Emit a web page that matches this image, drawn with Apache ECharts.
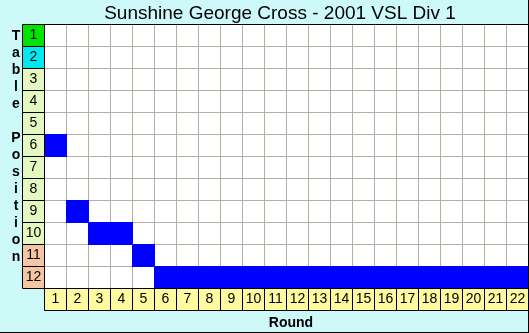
<!DOCTYPE html>
<html><head><meta charset="utf-8">
<script src="https://cdn.jsdelivr.net/npm/echarts@6/dist/echarts.min.js"></script>
<style>
html,body{margin:0;padding:0;background:#cef9f9;}
#wrap{position:relative;width:529px;height:333px;}
#chart{position:absolute;left:0;top:0;width:529px;height:333px;}
#frame{position:absolute;left:0;top:0;width:529px;height:333px;box-sizing:border-box;border-right:1px solid #000;border-bottom:1px solid #000;pointer-events:none;}
</style></head>
<body><div id="wrap"><div id="chart"></div><div id="frame"></div></div>
<script>
const titleText = 'Sunshine George Cross - 2001 VSL Div 1';
const yAxisTitle = 'Table Position';
const xAxisTitle = 'Round';
const rounds = ['1','2','3','4','5','6','7','8','9','10','11','12','13','14','15','16','17','18','19','20','21','22'];
const positions = ['1','2','3','4','5','6','7','8','9','10','11','12'];
const teamPosition = [6,9,10,10,11,12,12,12,12,12,12,12,12,12,12,12,12,12,12,12,12,12];

function posColor(p){
  if (p === 1) return '#00e400';
  if (p === 2) return '#00e8f0';
  if (p >= 11) return '#f6c6a2';
  return '#e6f8c2';
}
const FONT = '"Liberation Sans", Arial, sans-serif';

function labelCell(fillFn){
  return function(params, api){
    const c = api.coord([api.value(0), api.value(1)]);
    const s = api.size([1,1]);
    const x = Math.round(c[0]-s[0]/2)+0.5, y = Math.round(c[1]-s[1]/2)+0.5;
    return {
      type:'rect',
      shape:{x:x, y:y, width:Math.round(s[0]), height:Math.round(s[1])},
      style:{fill:fillFn(api), stroke:'#000', lineWidth:1},
      textContent:{style:{text:String(api.value(2)), font:'14px '+FONT, fill:'#000'}},
      textConfig:{position:'inside'}
    };
  };
}

const chart = echarts.init(document.getElementById('chart'), null, {renderer:'canvas'});
const gridLine = {show:true, lineStyle:{color:'#b6aea2', width:1}};
chart.setOption({
  animation:false,
  backgroundColor:'#cef9f9',
  title:[
    {text:titleText, left:275, top:-1, textAlign:'center',
     textStyle:{fontFamily:FONT, fontSize:19, fontWeight:'normal', color:'#000'}},
    {text:yAxisTitle.split('').join('\n'), left:11, top:23, textAlign:'center',
     textStyle:{fontFamily:FONT, fontSize:14, fontWeight:'bold', color:'#000', lineHeight:17}},
    {text:xAxisTitle, left:286, top:311, textAlign:'center',
     textStyle:{fontFamily:FONT, fontSize:14, fontWeight:'bold', color:'#000'}}
  ],
  grid:[
    {left:44, top:24, width:484, height:264, show:true, backgroundColor:'#ffffff', borderWidth:0},
    {left:22, top:24, width:22, height:264},
    {left:44, top:288, width:484, height:22}
  ],
  xAxis:[
    {gridIndex:0, type:'category', data:rounds, position:'top', boundaryGap:true,
     axisLine:{show:true, lineStyle:{color:'#000', width:1}}, axisTick:{show:false}, axisLabel:{show:false},
     splitLine:gridLine},
    {gridIndex:1, type:'category', data:[''], show:false},
    {gridIndex:2, type:'category', data:rounds, show:false}
  ],
  yAxis:[
    {gridIndex:0, type:'category', data:positions, inverse:true, boundaryGap:true,
     axisLine:{show:false}, axisTick:{show:false}, axisLabel:{show:false}, splitLine:gridLine},
    {gridIndex:1, type:'category', data:positions, inverse:true, show:false},
    {gridIndex:2, type:'category', data:[''], show:false}
  ],
  series:[
    {type:'custom', xAxisIndex:0, yAxisIndex:0,
     data:teamPosition.map((p,i)=>[i, p-1]),
     renderItem:function(params, api){
       const c = api.coord([api.value(0), api.value(1)]);
       const s = api.size([1,1]);
       return {type:'rect', shape:{x:Math.round(c[0]-s[0]/2), y:Math.round(c[1]-s[1]/2), width:Math.round(s[0])+1, height:Math.round(s[1])+1},
               style:{fill:'#0000ff'}};
     }},
    {type:'custom', xAxisIndex:1, yAxisIndex:1,
     data:positions.map((p,j)=>[0, j, p]),
     renderItem:labelCell(api=>posColor(Number(api.value(2))))},
    {type:'custom', xAxisIndex:2, yAxisIndex:2,
     data:rounds.map((r,i)=>[i, 0, r]),
     renderItem:labelCell(()=>'#fffaa0')}
  ]
});
</script></body></html>
